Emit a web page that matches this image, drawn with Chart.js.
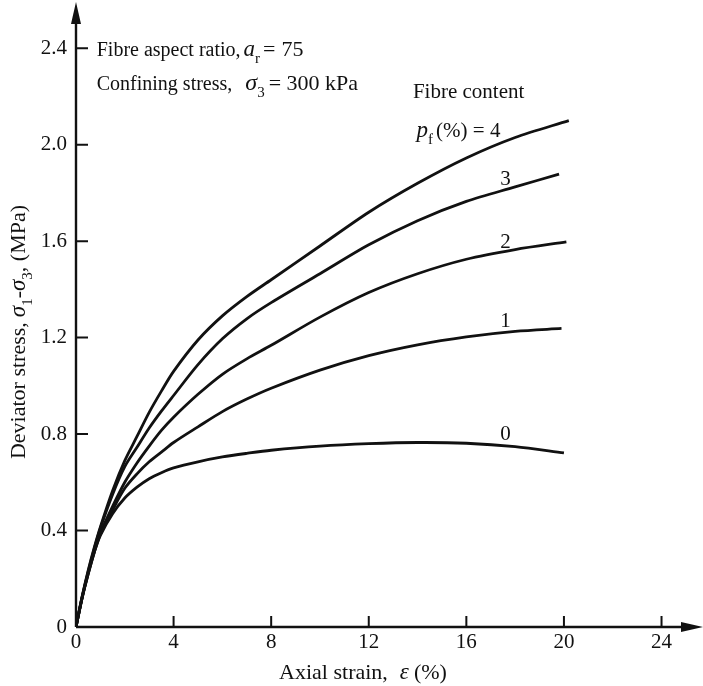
<!DOCTYPE html>
<html>
<head>
<meta charset="utf-8">
<script src="https://cdn.jsdelivr.net/npm/chart.js@4"></script>
<style>
  html, body { margin: 0; padding: 0; background: #fff; }
  #wrap { width: 703px; height: 686px; }
</style>
</head>
<body>
<div id="wrap"><canvas id="myChart" width="703" height="686"></canvas></div>
<script>
var strainPts = [0, 0.25, 0.5, 0.75, 1, 1.5, 2, 2.5, 3, 3.5, 4, 5, 6, 7, 8, 10, 12, 14, 16, 18, 20];
// each curve stops a little before / after 20 %
var endStrain = [20.0, 19.9, 20.1, 19.8, 20.2];

// deviator stress (MPa) for fibre content 0..4 %
var stress0 = [0, 0.12, 0.22, 0.31, 0.38, 0.47, 0.535, 0.58, 0.615, 0.64, 0.66, 0.685, 0.705, 0.72, 0.733, 0.75, 0.76, 0.765, 0.762, 0.748, 0.722];
var stress1 = [0, 0.12, 0.22, 0.31, 0.385, 0.485, 0.575, 0.635, 0.685, 0.725, 0.765, 0.83, 0.893, 0.945, 0.99, 1.065, 1.125, 1.17, 1.203, 1.226, 1.238];
var stress2 = [0, 0.12, 0.225, 0.315, 0.39, 0.5, 0.6, 0.68, 0.75, 0.815, 0.87, 0.965, 1.048, 1.112, 1.168, 1.285, 1.387, 1.465, 1.525, 1.565, 1.597];
var stress3 = [0, 0.125, 0.23, 0.325, 0.41, 0.55, 0.665, 0.745, 0.825, 0.895, 0.96, 1.088, 1.195, 1.278, 1.345, 1.465, 1.585, 1.685, 1.765, 1.825, 1.878];
var stress4 = [0, 0.125, 0.235, 0.33, 0.415, 0.565, 0.69, 0.79, 0.89, 0.978, 1.06, 1.19, 1.29, 1.37, 1.44, 1.58, 1.72, 1.84, 1.945, 2.03, 2.1];

var xTicks = [0, 4, 8, 12, 16, 20, 24];
var yTicks = [0, 0.4, 0.8, 1.2, 1.6, 2.0, 2.4];
var yTickLabels = ['0', '0.4', '0.8', '1.2', '1.6', '2.0', '2.4'];

// curve labels (the "4" sits in the "pf (%) = 4" line)
var curveLabels = ['0', '1', '2', '3'];
var curveLabelStrain = [17.6, 17.6, 17.6, 17.6];
var curveLabelStress = [0.80, 1.268, 1.595, 1.856];

var FONT = 'Liberation Serif';
var INK = '#111';

function toPoints(ys, idx) {
    return ys.map(function (y, i) {
        var x = (i === ys.length - 1) ? endStrain[idx] : strainPts[i];
        return { x: x, y: y };
    });
}

// piece = [text, style, size]; style n normal, i italic, s subscript; a number is a gap in px
function partFont(p) {
    var size = p[2];
    if (p[1] === 'i') return 'italic ' + size + 'px "' + FONT + '"';
    if (p[1] === 's') return Math.round(size * 0.66) + 'px "' + FONT + '"';
    return size + 'px "' + FONT + '"';
}

function richText(ctx, x, y, parts, align) {
    var w = 0;
    parts.forEach(function (p) {
        if (typeof p === 'number') { w += p; return; }
        ctx.font = partFont(p); w += ctx.measureText(p[0]).width;
    });
    var cx = align === 'center' ? x - w / 2 : x;
    ctx.textAlign = 'left';
    ctx.textBaseline = 'alphabetic';
    parts.forEach(function (p) {
        if (typeof p === 'number') { cx += p; return; }
        ctx.font = partFont(p);
        ctx.fillText(p[0], cx, y + (p[1] === 's' ? p[2] * 0.3 : 0));
        cx += ctx.measureText(p[0]).width;
    });
}

var axesAndNotes = {
    id: 'axesAndNotes',
    afterDraw: function (chart) {
        var ctx = chart.ctx;
        var xs = chart.scales.x, ys = chart.scales.y;
        var x0 = xs.getPixelForValue(0), y0 = ys.getPixelForValue(0);
        var area = chart.chartArea;
        ctx.save();
        ctx.strokeStyle = INK;
        ctx.fillStyle = INK;
        ctx.lineWidth = 2.4;

        // axis lines with arrow heads
        ctx.beginPath();
        ctx.moveTo(x0, y0); ctx.lineTo(x0, area.top + 14);
        ctx.moveTo(x0, y0); ctx.lineTo(area.right - 14, y0);
        ctx.stroke();
        ctx.beginPath();
        ctx.moveTo(x0, area.top + 2); ctx.lineTo(x0 - 5, area.top + 24); ctx.lineTo(x0 + 5, area.top + 24); ctx.closePath();
        ctx.fill();
        ctx.beginPath();
        ctx.moveTo(area.right, y0); ctx.lineTo(area.right - 22, y0 - 5); ctx.lineTo(area.right - 22, y0 + 5); ctx.closePath();
        ctx.fill();

        // tick marks pointing into the plot
        ctx.lineWidth = 2;
        ctx.beginPath();
        xTicks.forEach(function (v) {
            if (v === 0) return;
            var px = xs.getPixelForValue(v);
            ctx.moveTo(px, y0); ctx.lineTo(px, y0 - 11);
        });
        yTicks.forEach(function (v) {
            if (v === 0) return;
            var py = ys.getPixelForValue(v);
            ctx.moveTo(x0, py); ctx.lineTo(x0 + 12, py);
        });
        ctx.stroke();

        // curve labels
        ctx.font = '21px "' + FONT + '"';
        ctx.textAlign = 'center';
        ctx.textBaseline = 'middle';
        curveLabels.forEach(function (t, i) {
            ctx.fillText(t, xs.getPixelForValue(curveLabelStrain[i]), ys.getPixelForValue(curveLabelStress[i]));
        });

        // notes
        richText(ctx, xs.getPixelForValue(0.85), ys.getPixelForValue(2.366),
            [['Fibre aspect ratio,', 'n', 20], 3, ['a', 'i', 23], ['r', 's', 22], 3, ['=', 'n', 22], 6, ['75', 'n', 22]]);
        richText(ctx, xs.getPixelForValue(0.85), ys.getPixelForValue(2.227),
            [['Confining stress,', 'n', 20], 13, ['\u03C3', 'i', 24], ['3', 's', 22], 4, ['= 300 kPa', 'n', 22]]);
        richText(ctx, xs.getPixelForValue(13.81), ys.getPixelForValue(2.194),
            [['Fibre content', 'n', 21]]);
        richText(ctx, xs.getPixelForValue(13.96), ys.getPixelForValue(2.032),
            [['p', 'i', 23], ['f', 's', 22], 3, ['(%) = 4', 'n', 21]]);

        // axis titles
        richText(ctx, 363, 679,
            [['Axial strain,', 'n', 22], 12, ['\u03B5', 'i', 23], 5, ['(%)', 'n', 22]], 'center');
        ctx.translate(18, 332);
        ctx.rotate(-Math.PI / 2);
        richText(ctx, 0, 7,
            [['Deviator stress,', 'n', 22], 5, ['\u03C3', 'i', 23], ['1', 's', 22], ['-', 'n', 22], ['\u03C3', 'i', 23], ['3', 's', 22], [', (MPa)', 'n', 22]], 'center');
        ctx.restore();
    }
};

var series = [stress0, stress1, stress2, stress3, stress4];

var ctx = document.getElementById('myChart').getContext('2d');
var myChart = new Chart(ctx, {
    type: 'line',
    data: {
        datasets: series.map(function (s, i) {
            return {
                label: 'pf = ' + i + ' %',
                data: toPoints(s, i),
                borderColor: INK,
                borderWidth: 2.8,
                pointRadius: 0,
                fill: false,
                tension: 0.3,
                borderCapStyle: 'butt'
            };
        })
    },
    options: {
        responsive: false,
        animation: false,
        devicePixelRatio: 1,
        layout: { padding: 0 },
        plugins: { legend: { display: false }, tooltip: { enabled: false } },
        scales: {
            x: {
                type: 'linear',
                min: 0,
                max: 25.7,
                afterBuildTicks: function (s) { s.ticks = xTicks.map(function (v) { return { value: v }; }); },
                afterFit: function (s) { s.height = 59; s.paddingLeft = 0; s.paddingRight = 0; },
                grid: { display: false, drawTicks: false },
                border: { display: false },
                ticks: { font: { family: FONT, size: 21 }, color: INK, padding: 3, autoSkip: false, maxRotation: 0 }
            },
            y: {
                type: 'linear',
                min: 0,
                max: 2.6,
                afterBuildTicks: function (s) { s.ticks = yTicks.map(function (v) { return { value: v }; }); },
                afterFit: function (s) { s.width = 76; s.paddingTop = 0; s.paddingBottom = 0; },
                grid: { display: false, drawTicks: false },
                border: { display: false },
                ticks: {
                    font: { family: FONT, size: 21 }, color: INK, padding: 9, autoSkip: false,
                    callback: function (v) { return yTickLabels[yTicks.indexOf(v)]; }
                }
            }
        }
    },
    plugins: [axesAndNotes]
});
</script>
</body>
</html>
